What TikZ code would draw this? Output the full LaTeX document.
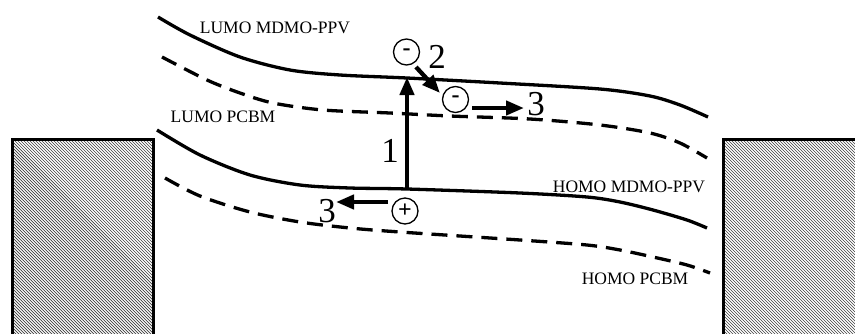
\documentclass[tikz,border=0pt]{standalone}
\usepackage{fontspec}
\setmainfont{Liberation Serif}
\usetikzlibrary{arrows.meta}
\begin{document}
\begin{tikzpicture}[x=1pt,y=-1pt,
  level/.style={line width=3.3pt},
  dlevel/.style={line width=3.3pt,dash pattern=on 16pt off 9pt},
  electrode/.style={line width=3pt},
  hatch/.style={line width=0.7pt,black!75},
  lab/.style={font=\fontsize{17.5}{18}\selectfont,inner sep=0pt},
  num/.style={font=\fontsize{35}{35}\selectfont,inner sep=0pt},
  charge/.style={circle,draw,line width=1.3pt,minimum size=26pt,inner sep=0pt,font=\bfseries\fontsize{24}{24}\selectfont},
  move/.style={line width=4.3pt,-{Triangle[length=18pt,width=14pt]}}]
\useasboundingbox (0,0) rectangle (855,333);
% electrodes
\begin{scope}
\clip (12,139) rectangle (153,333);
\fill[white] (12,139) rectangle (153,333);
\foreach \k in {-200,-197,...,150} {\draw[hatch] (12+\k,139) -- ++(200,200);}
\end{scope}
\begin{scope}
\clip (723,139) rectangle (855,333);
\foreach \k in {-200,-197,...,140} {\draw[hatch] (723+\k,139) -- ++(200,200);}
\end{scope}
\begin{scope}
\clip (0,0) rectangle (855,333);
\draw[electrode] (12,360) -- (12,139) -- (153,139) -- (153,360);
\draw[electrode] (880,139) -- (723,139) -- (723,360);
\end{scope}
% energy levels
\draw[level] plot[smooth,tension=0.5] coordinates {(158,17) (190,35) (240,57) (290,70) (340,75) (407,78) (500,83) (600,89) (650,96) (680,105) (708,117)};
\draw[dlevel] plot[smooth,tension=0.5] coordinates {(162,57) (207,80) (240,93) (273,103) (323,110) (390,113) (450,116) (530,119) (600,125) (650,133) (680,143) (707,158)};
\draw[level] plot[smooth,tension=0.5] coordinates {(157,130) (200,155) (250,175) (300,185) (350,188) (407,189) (520,193) (587,197) (620,202) (653,210) (687,220) (707,228)};
\draw[dlevel] plot[smooth,tension=0.5] coordinates {(165,178) (200,196) (250,212) (300,222) (350,228) (400,232) (520,240) (587,245) (620,250) (653,257) (687,265) (710,273)};
% labels
\node[lab] (l1) at (275,28) {LUMO MDMO-PPV};
\node[lab] (l2) at (223,117) {LUMO PCBM};
\node[lab] (l3) at (629,187) {HOMO MDMO-PPV};
\node[lab] (l4) at (635,279) {HOMO PCBM};
% charges
\node[charge] (e1) at (406.5,52) {\raisebox{-3pt}{-}};
\node[charge] (e2) at (455.5,99.5) {\raisebox{-3pt}{-}};
\node[charge] (h1) at (405,211) {+};
% numbers
\node[num] (n1) at (390,151) {1};
\node[num] (n2) at (437,57) {2};
\node[num] (n3a) at (536,104) {3};
\node[num] (n3b) at (327,211) {3};
% arrows
\coordinate (a1s) at (407,189);
\coordinate (a1e) at (407,77);
\coordinate (a2s) at (416,67);
\coordinate (a2e) at (440,93);
\coordinate (a3s) at (472,108);
\coordinate (a3e) at (524,108);
\coordinate (a4s) at (388,202);
\coordinate (a4e) at (336,202);
\draw[move] (a1s) -- (a1e);
\draw[move] (a2s) -- (a2e);
\draw[move] (a3s) -- (a3e);
\draw[move] (a4s) -- (a4e);
\end{tikzpicture}
\end{document}
